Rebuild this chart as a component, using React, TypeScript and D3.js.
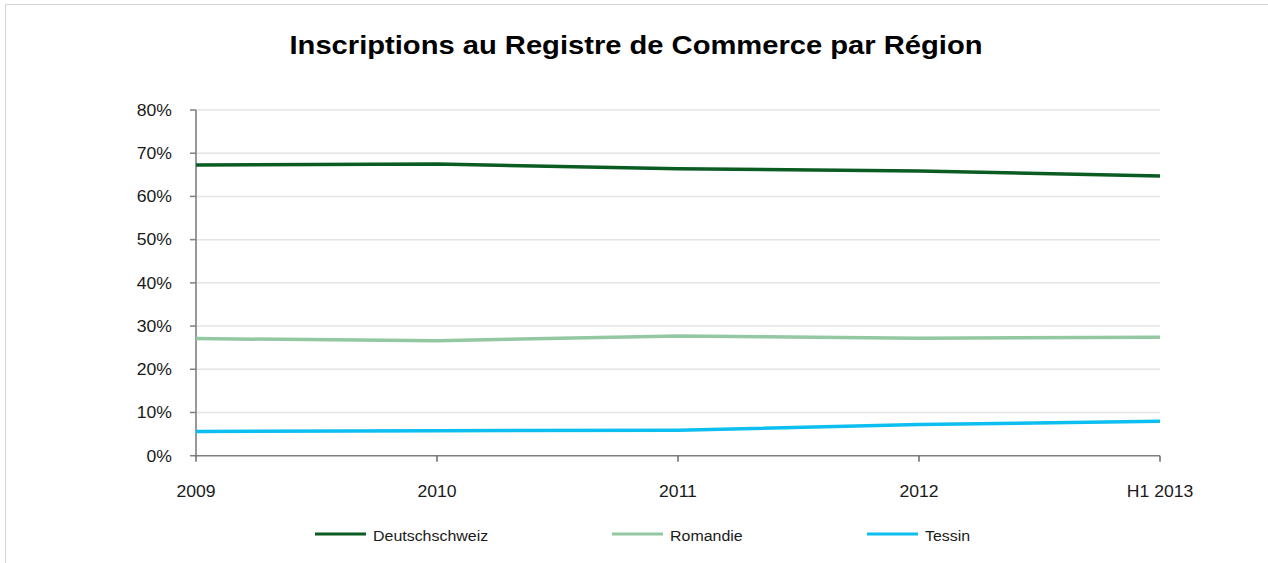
import { useEffect, useRef } from "react";
import * as d3 from "d3";

// categories on the x axis
const periods = ["2009", "2010", "2011", "2012", "H1 2013"];

// share of registrations per region (fractions)
const deutschschweiz = [0.673, 0.675, 0.664, 0.659, 0.647];
const romandie = [0.271, 0.266, 0.277, 0.272, 0.274];
const tessin = [0.056, 0.058, 0.059, 0.072, 0.080];

const yTicks = [0, 0.1, 0.2, 0.3, 0.4, 0.5, 0.6, 0.7, 0.8];

const seriesNames = ["Deutschschweiz", "Romandie", "Tessin"];
const seriesColors = ["#0a5c22", "#93c8a2", "#0dbef0"];

export default function App() {
  const ref = useRef(null);

  useEffect(() => {
    const root = d3.select(ref.current);
    root.selectAll("*").remove();

    const width = 1268;
    const height = 563;
    const font = "'Liberation Sans', Arial, Helvetica, sans-serif";
    const stretch = 1.1; // source glyphs are a bit wider than Arial

    const svg = root
      .append("svg")
      .attr("width", width)
      .attr("height", height)
      .style("position", "absolute")
      .style("left", 0)
      .style("top", 0)
      .style("background", "#fff");

    // outer frame
    svg
      .append("rect")
      .attr("x", 5.5)
      .attr("y", 4.5)
      .attr("width", width + 20)
      .attr("height", height + 20)
      .attr("fill", "none")
      .attr("stroke", "#d6d6d6");

    const x = d3.scalePoint().domain(periods).range([196, 1160]);
    const y = d3.scaleLinear().domain([0, 0.8]).range([455.7, 110]);

    const addText = (g, tx, ty, str, size, anchor, weight = "normal", fill = "#1a1a1a") =>
      g
        .append("text")
        .attr("transform", `translate(${tx},${ty}) scale(${stretch},1)`)
        .attr("text-anchor", anchor)
        .attr("font-family", font)
        .attr("font-size", size)
        .attr("font-weight", weight)
        .attr("fill", fill)
        .text(str);

    // title
    addText(svg, 636, 54, "Inscriptions au Registre de Commerce par Région", 26.5, "middle", "bold", "#000");

    // gridlines
    svg
      .append("g")
      .selectAll("line")
      .data(yTicks.filter((d) => d > 0))
      .join("line")
      .attr("x1", x.range()[0])
      .attr("x2", x.range()[1])
      .attr("y1", (d) => y(d))
      .attr("y2", (d) => y(d))
      .attr("stroke", "#e4e4e4")
      .attr("stroke-width", 1.5);

    // y axis
    const yAxis = svg.append("g");
    yAxis
      .append("line")
      .attr("x1", 196)
      .attr("x2", 196)
      .attr("y1", y(0.8))
      .attr("y2", y(0))
      .attr("stroke", "#7f7f7f")
      .attr("stroke-width", 1.6);
    yTicks.forEach((t) => {
      yAxis
        .append("line")
        .attr("x1", 190)
        .attr("x2", 196)
        .attr("y1", y(t))
        .attr("y2", y(t))
        .attr("stroke", "#7f7f7f")
        .attr("stroke-width", 1.5);
      addText(yAxis, 172, y(t) + 5.8, d3.format(".0%")(t), 16, "end");
    });

    // x axis
    const xAxis = svg.append("g");
    xAxis
      .append("line")
      .attr("x1", x.range()[0])
      .attr("x2", x.range()[1])
      .attr("y1", y(0))
      .attr("y2", y(0))
      .attr("stroke", "#7f7f7f")
      .attr("stroke-width", 1.6);
    periods.forEach((p) => {
      xAxis
        .append("line")
        .attr("x1", x(p))
        .attr("x2", x(p))
        .attr("y1", y(0))
        .attr("y2", y(0) + 6)
        .attr("stroke", "#555")
        .attr("stroke-width", 1.3);
      addText(xAxis, x(p), 497, p, 16, "middle");
    });

    // series lines
    const line = d3
      .line()
      .x((d, i) => x(periods[i]))
      .y((d) => y(d));

    [deutschschweiz, romandie, tessin].forEach((values, i) => {
      svg
        .append("path")
        .datum(values)
        .attr("d", line)
        .attr("fill", "none")
        .attr("stroke", seriesColors[i])
        .attr("stroke-width", 3.5)
        .attr("stroke-linejoin", "round");
    });

    // legend
    const legendX = [315, 612, 867];
    const legend = svg.append("g");
    seriesNames.forEach((name, i) => {
      legend
        .append("line")
        .attr("x1", legendX[i])
        .attr("x2", legendX[i] + 51)
        .attr("y1", 534)
        .attr("y2", 534)
        .attr("stroke", seriesColors[i])
        .attr("stroke-width", 3);
      addText(legend, legendX[i] + 58, 541, name, 14.5, "start");
    });
  }, []);

  return <div ref={ref}></div>;
}
